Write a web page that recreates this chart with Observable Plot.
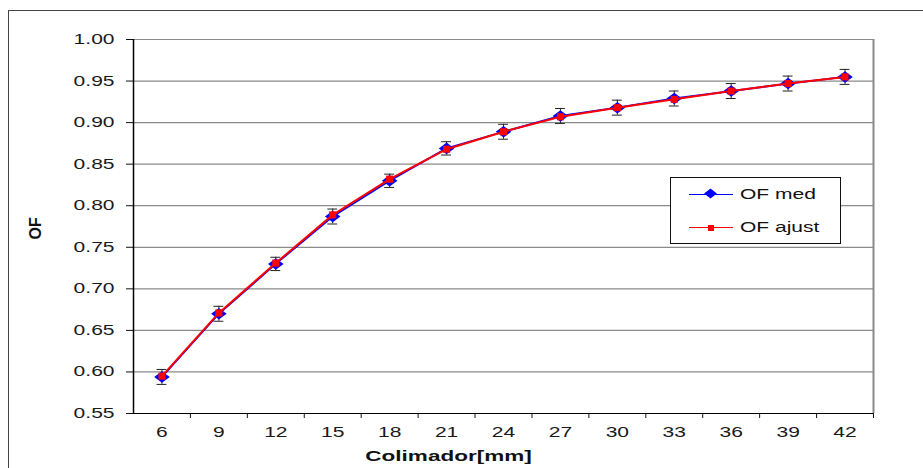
<!DOCTYPE html>
<html>
<head>
<meta charset="utf-8">
<script src="https://cdn.jsdelivr.net/npm/d3@7"></script>
<script src="https://cdn.jsdelivr.net/npm/@observablehq/plot@0.6"></script>
<style>
  html, body { margin: 0; padding: 0; background: #fff; }
  #wrap { position: relative; width: 923px; height: 468px; overflow: hidden; font-family: "Liberation Sans", Arial, sans-serif; }
  #frame { position: absolute; left: 8px; top: 10px; width: 940px; height: 480px; border: 1px solid #444; box-sizing: border-box; }
  #chart { position: absolute; left: 0; top: 0; }
  #legend { position: absolute; left: 670px; top: 177px; width: 171px; height: 67px; border: 1px solid #111; background: #fff; box-sizing: border-box; }
  .lg-row { position: absolute; left: 0; height: 20px; width: 100%; }
  .lg-line { position: absolute; left: 18px; width: 44px; top: 9px; height: 0; border-top: 1.5px solid; }
  .lg-text { position: absolute; left: 69px; top: 1px; font-size: 14px; color: #111; transform: scaleX(1.5); transform-origin: left center; white-space: nowrap; }
  .lg-mark { position: absolute; }
</style>
</head>
<body>
<div id="wrap">
  <div id="frame"></div>
  <div id="chart"></div>
  <div id="legend">
    <div class="lg-row" style="top:7px">
      <div class="lg-line" style="border-color:#0000ff"></div>
      <div class="lg-mark" style="left:36px;top:5px;width:7px;height:7px;background:#0000ff;transform:scaleX(1.3) rotate(45deg)"></div>
      <div class="lg-text">OF med</div>
    </div>
    <div class="lg-row" style="top:40px">
      <div class="lg-line" style="border-color:#ff0000"></div>
      <div class="lg-mark" style="left:37px;top:7px;width:6px;height:6px;background:#ff0000"></div>
      <div class="lg-text">OF ajust</div>
    </div>
  </div>
</div>
<script>
const colimador = [6, 9, 12, 15, 18, 21, 24, 27, 30, 33, 36, 39, 42];
const ofMed   = [0.594, 0.670, 0.730, 0.787, 0.830, 0.869, 0.889, 0.908, 0.918, 0.929, 0.938, 0.947, 0.955];
const ofAjust = [0.595, 0.671, 0.731, 0.789, 0.832, 0.868, 0.889, 0.907, 0.918, 0.928, 0.938, 0.947, 0.955];
const ofErr   = [0.009, 0.009, 0.008, 0.009, 0.008, 0.008, 0.009, 0.009, 0.009, 0.009, 0.009, 0.009, 0.009];
const yTicks  = [0.55, 0.60, 0.65, 0.70, 0.75, 0.80, 0.85, 0.90, 0.95, 1.00];
const xLabel = "Colimador[mm]";
const yLabel = "OF";

const med = colimador.map((c, i) => ({c, v: ofMed[i], lo: ofMed[i] - ofErr[i], hi: ofMed[i] + ofErr[i]}));
const fit = colimador.map((c, i) => ({c, v: ofAjust[i]}));
const half = (colimador[1] - colimador[0]) / 2;
const xMin = colimador[0] - half, xMax = colimador[colimador.length - 1] + half;
const xBounds = colimador.map(c => c + half);
const capW = 0.26;

// wide diamond (Excel-style marker, horizontally stretched)
const wideDiamond = {
  draw(context, size) {
    const h = Math.sqrt(size) * 0.5;
    const w = h * 1.35;
    context.moveTo(0, -h);
    context.lineTo(w, 0);
    context.lineTo(0, h);
    context.lineTo(-w, 0);
    context.closePath();
  }
};

const svg = Plot.plot({
  width: 923,
  height: 468,
  marginLeft: 133,
  marginRight: 50,
  marginTop: 39,
  marginBottom: 55,
  style: {fontFamily: "Liberation Sans, Arial, sans-serif", fontSize: "14px", color: "#000", background: "transparent"},
  x: {domain: [xMin, xMax]},
  y: {domain: [yTicks[0], yTicks[yTicks.length - 1]]},
  marks: [
    Plot.ruleY(yTicks.slice(1), {stroke: "#8a8a8a", strokeWidth: 1.2}),
    Plot.ruleX([xMax], {stroke: "#8a8a8a", strokeWidth: 2}),
    Plot.axisY({ticks: yTicks, tickFormat: d3.format(".2f"), tickSize: 7, tickPadding: 12, label: null, stroke: "#111", fill: "#1a1a1a"}),
    Plot.axisX({ticks: xBounds, tickSize: 5, tickFormat: () => "", label: null, stroke: "#111"}),
    Plot.axisX({ticks: colimador, tickSize: 0, tickPadding: 14, tickFormat: d3.format("d"), label: null, fill: "#1a1a1a"}),
    Plot.ruleX([xMin], {stroke: "#000", strokeWidth: 1.5}),
    Plot.ruleY([yTicks[0]], {stroke: "#000", strokeWidth: 1.2}),
    // error bars
    Plot.ruleX(med, {x: "c", y1: "lo", y2: "hi", stroke: "#222", strokeWidth: 1}),
    Plot.ruleY(med, {y: "lo", x1: d => d.c - capW, x2: d => d.c + capW, stroke: "#222", strokeWidth: 1}),
    Plot.ruleY(med, {y: "hi", x1: d => d.c - capW, x2: d => d.c + capW, stroke: "#222", strokeWidth: 1}),
    // measured
    Plot.line(med, {x: "c", y: "v", stroke: "#0000ff", strokeWidth: 1.8}),
    Plot.dot(med, {x: "c", y: "v", symbol: wideDiamond, r: 6.5, fill: "#0000ff", stroke: "none"}),
    // fit
    Plot.line(fit, {x: "c", y: "v", stroke: "#ff0000", strokeWidth: 2}),
    Plot.dot(fit, {x: "c", y: "v", symbol: "square", r: 4, fill: "#ff0000", stroke: "none"}),
    // labels
    Plot.text([xLabel], {frameAnchor: "bottom", dx: -55, dy: 47, fontWeight: "bold", fontSize: 15, fill: "#111", className: "stretch"}),
    Plot.text([yLabel], {frameAnchor: "left", rotate: -90, dx: -98, dy: 13, fontWeight: "bold", fontSize: 16, fill: "#111"})
  ]
});
document.getElementById("chart").appendChild(svg);

// Horizontally stretch axis texts to match the wide rendering of the reference
svg.querySelectorAll('g[aria-label$="tick label"] text, g.stretch text, .stretch text').forEach(t => {
  const len = t.getComputedTextLength();
  if (len > 0) {
    t.setAttribute("textLength", (len * 1.5).toFixed(1));
    t.setAttribute("lengthAdjust", "spacingAndGlyphs");
  }
});
</script>
</body>
</html>
